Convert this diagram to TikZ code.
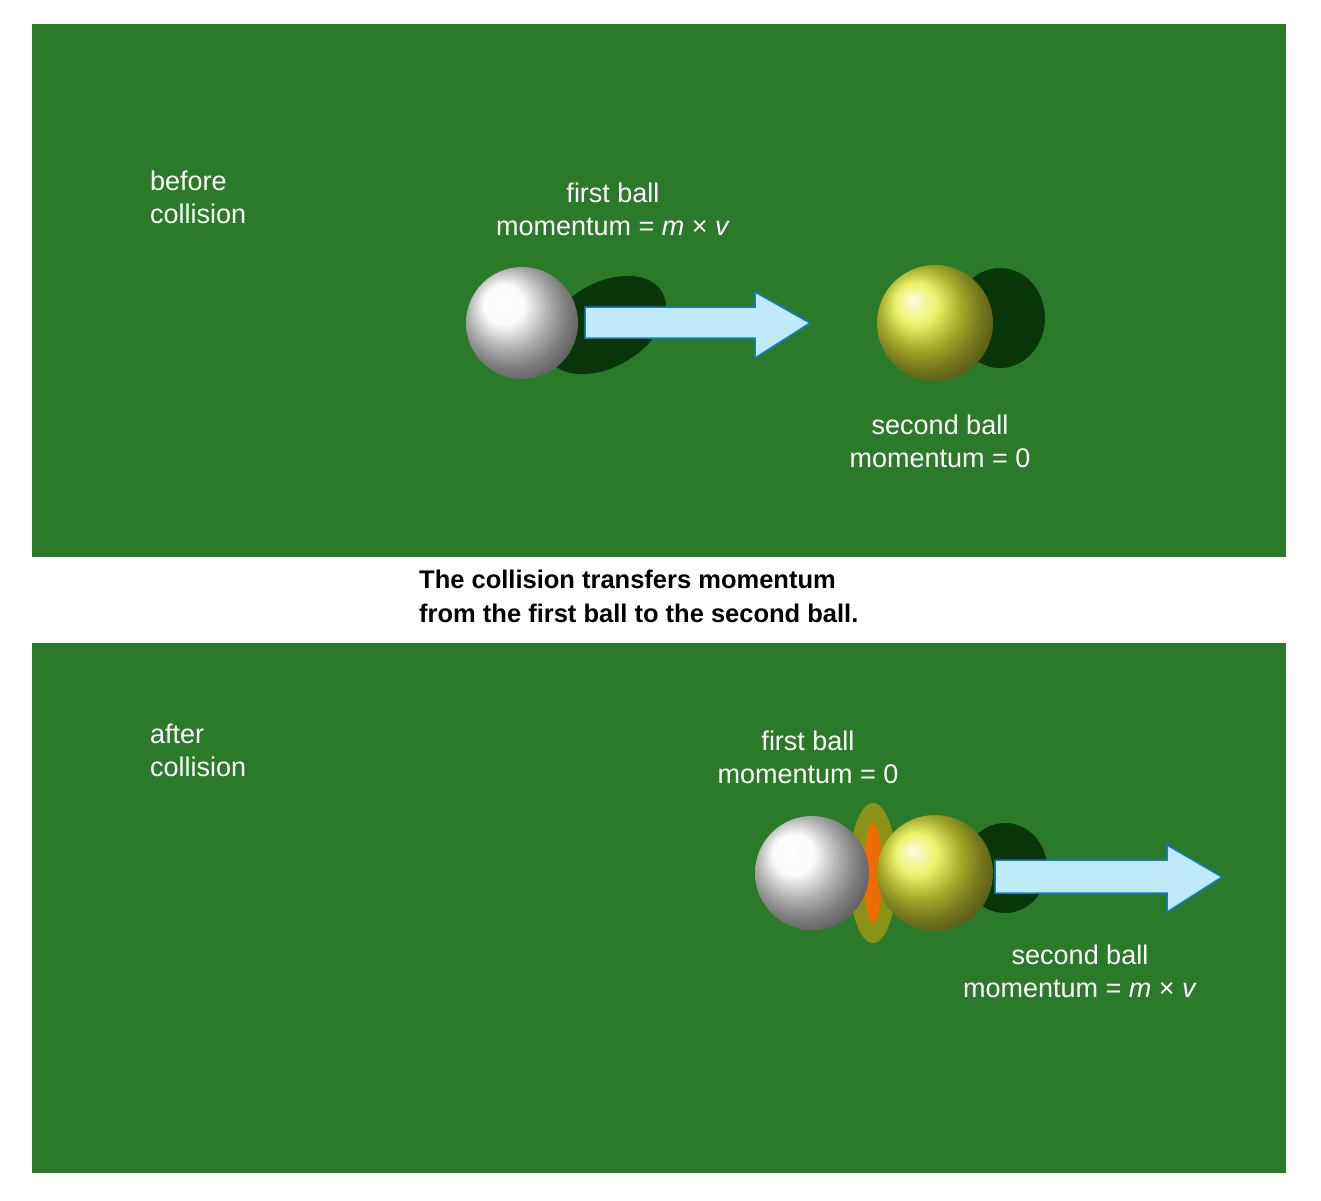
\documentclass[tikz,border=0pt]{standalone}
\usepackage{fontspec}
\setmainfont{Liberation Sans}
\begin{document}
\begin{tikzpicture}[x=1pt,y=-1pt,
  lbl/.style={text=white,font=\fontsize{27}{33}\selectfont,align=center,inner sep=0},
  side/.style={text=white,font=\fontsize{27}{33}\selectfont,align=left,anchor=north west,inner sep=0},
  shadow/.style={fill=black!85!green,opacity=0.8},
  arrowshape/.style={fill=cyan!25!white,draw=cyan!60!blue,line width=1.5pt}]
\useasboundingbox (0,0) rectangle (1321,1200);
\fill[white] (0,0) rectangle (1321,1200);
\definecolor{felt}{HTML}{2B7A2A}
\definecolor{ballyel}{HTML}{E6EE3A}
\fill[felt] (32,24) rectangle (1286,557);
\fill[felt] (32,643) rectangle (1286,1173);
% top panel
\node[side] (bef) at (150,171) {before\\collision};
\node[lbl] (fb1) at (613,209) {first ball\\momentum = \textit{m} × \textit{v}};
\fill[shadow,rotate around={30:(605,325)}] (605,325) ellipse (66 and 42);
\shade[ball color=white!96!gray] (522,323) circle (56);
\path[arrowshape] (585,307) -- (755,307) -- (755,292) -- (810,323) -- (755,358) -- (755,338) -- (585,338) -- cycle;
\fill[shadow] (1000,318) ellipse (45 and 50);
\shade[ball color=ballyel] (935,323) circle (58);
\node[lbl] (sb1) at (940,441) {second ball\\momentum = 0};
% middle
\node[font=\bfseries\fontsize{25.5}{34}\selectfont,align=left,anchor=north west,inner sep=0] (cap) at (419,570) {The collision transfers momentum\\from the first ball to the second ball.};
% bottom panel
\node[side] (aft) at (150,724) {after\\collision};
\node[lbl] (fb2) at (808,757) {first ball\\momentum = 0};
\fill[shadow] (1005,868) ellipse (42 and 45);
\fill[orange!60!yellow,opacity=0.45] (873,873) ellipse (24 and 70);
\fill[orange!80!red,opacity=0.85] (873,873) ellipse (9 and 50);
\shade[ball color=white!96!gray] (812,873) circle (57);
\shade[ball color=ballyel] (935,873) circle (58);
\path[arrowshape] (995,860) -- (1167,860) -- (1167,845) -- (1222,877) -- (1167,912) -- (1167,893) -- (995,893) -- cycle;
\node[lbl] (sb2) at (1080,971) {second ball\\momentum = \textit{m} × \textit{v}};
\end{tikzpicture}
\end{document}
